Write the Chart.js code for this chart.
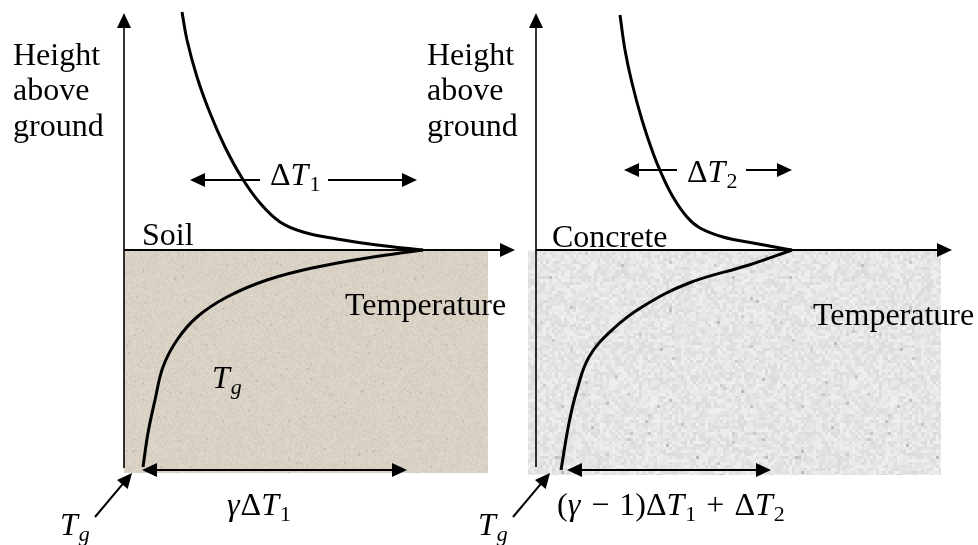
<!DOCTYPE html>
<html>
<head>
<meta charset="utf-8">
<script src="https://cdn.jsdelivr.net/npm/chart.js@4.4.1/dist/chart.umd.min.js"></script>
<style>
  html, body { margin: 0; padding: 0; background: #fff; }
  #wrap { position: relative; width: 978px; height: 545px; }
</style>
</head>
<body>
<div id="wrap"><canvas id="profileChart" width="978" height="545"></canvas></div>
<script>
// temperature (x) against height above ground (y), arbitrary units, origin at each panel's axes
const soilAirT = [5.8, 6.3, 7.3, 8.6, 10.1, 11.8, 13.6, 15.6, 17.9, 21.3, 25.3, 29.9];
const soilAirH = [23.8, 21.0, 17.3, 13.7, 10.3, 7.2, 4.7, 2.8, 1.8, 1.1, 0.5, 0];
const soilGroundT = [29.9, 24.3, 19.3, 14.3, 10.3, 7.3, 5.3, 3.9, 3.1, 2.4, 1.9];
const soilGroundH = [0, -0.8, -1.7, -3.0, -4.7, -6.7, -9.0, -11.7, -15.0, -18.3, -21.7];

const concAirT = [8.4, 8.9, 9.6, 10.6, 11.7, 12.6, 13.7, 15.1, 16.4, 18.7, 21.7, 25.6];
const concAirH = [23.5, 20.0, 16.7, 13.0, 9.7, 7.5, 5.3, 3.3, 2.2, 1.3, 0.7, 0];
const concGroundT = [25.6, 21.3, 15.3, 10.6, 7.6, 5.3, 4.1, 3.3, 2.5];
const concGroundH = [0, -1.5, -3.3, -5.7, -8.0, -10.7, -14.0, -17.3, -22.0];

// ground blocks [tStart, tEnd, depth]
const soilBlock = [0, 36.4, -22.3];
const concBlock = [-0.8, 40.5, -22.5];

const pts = (xs, ys) => xs.map((x, i) => ({ x: x, y: ys[i] }));

function makeTexture(r, g, b, spread, grain, seed) {
  const size = 240;
  const c = document.createElement("canvas");
  c.width = size;
  c.height = size;
  const cx = c.getContext("2d");
  const img = cx.createImageData(size, size);
  for (let j = 0; j < size; j++) {
    for (let i = 0; i < size; i++) {
      let h = Math.imul(Math.floor(i / grain) + seed, 374761393) + Math.imul(Math.floor(j / grain) - seed, 668265263);
      h = Math.imul(h ^ (h >>> 13), 1274126177);
      h = (h ^ (h >>> 16)) >>> 0;
      let n = ((h % 1000) / 1000 - 0.5) * spread;
      if (h % 97 === 0) n -= spread * 1.5;
      const k = (j * size + i) * 4;
      img.data[k] = r + n;
      img.data[k + 1] = g + n;
      img.data[k + 2] = b + n;
      img.data[k + 3] = 255;
    }
  }
  cx.putImageData(img, 0, 0);
  return cx.createPattern(c, "repeat");
}

const soilFill = makeTexture(217, 209, 195, 10, 2, 3);
const concFill = makeTexture(229, 229, 229, 22, 3, 11);

// annotations, in each panel's data units
const arrows = [
  // [axis, x1, y1, x2, y2, headStart, headEnd, width]
  ["xL", 0, -21.8, 0, 23.7, false, true, 1.6],
  ["xL", 0, 0, 39.1, 0, false, true, 2],
  ["xL", 13.6, 7.0, 6.6, 7.0, false, true, 2],
  ["xL", 20.4, 7.0, 29.3, 7.0, false, true, 2],
  ["xL", 1.8, -22.0, 28.3, -22.0, true, true, 2],
  ["xL", -2.9, -26.7, 0.8, -22.3, false, true, 2],
  ["xR", 0, -21.7, 0, 23.7, false, true, 1.6],
  ["xR", 0, 0, 41.6, 0, false, true, 2],
  ["xR", 14.1, 8.0, 8.8, 8.0, false, true, 2],
  ["xR", 21.0, 8.0, 25.6, 8.0, false, true, 2],
  ["xR", 3.1, -22.0, 23.5, -22.0, true, true, 2],
  ["xR", -2.3, -26.7, 1.4, -22.3, false, true, 2],
];

// parts: n = plain, m = upright math, i = italic math, op = binary operator, s = subscript, si = italic subscript
const labels = [
  ["xL", -11.1, 18.5, [["Height", "n"]]],
  ["xL", -11.1, 15.0, [["above", "n"]]],
  ["xL", -11.1, 11.4, [["ground", "n"]]],
  ["xL", 1.8, 0.5, [["Soil", "n"]]],
  ["xL", 22.1, -6.5, [["Temperature", "n"]]],
  ["xL", 14.6, 6.5, [["Δ", "m"], ["T", "i"], ["1", "s"]]],
  ["xL", 8.8, -13.8, [["T", "i"], ["g", "si"]]],
  ["xL", 10.3, -26.5, [["γ", "i"], ["Δ", "m"], ["T", "i"], ["1", "s"]]],
  ["xL", -6.4, -28.5, [["T", "i"], ["g", "si"]]],
  ["xR", -10.9, 18.5, [["Height", "n"]]],
  ["xR", -10.9, 15.0, [["above", "n"]]],
  ["xR", -10.9, 11.4, [["ground", "n"]]],
  ["xR", 1.6, 0.3, [["Concrete", "n"]]],
  ["xR", 27.7, -7.5, [["Temperature", "n"]]],
  ["xR", 15.1, 6.8, [["Δ", "m"], ["T", "i"], ["2", "s"]]],
  ["xR", 2.1, -26.5, [["(", "m"], ["γ", "i"], ["−", "op"], ["1)Δ", "m"], ["T", "i"], ["1", "s"], ["+", "op"], ["Δ", "m"], ["T", "i"], ["2", "s"]]],
  ["xR", -5.8, -28.5, [["T", "i"], ["g", "si"]]],
];

const FONT = '"Liberation Serif", "Times New Roman", serif';
const partFont = {
  n: "32px " + FONT,
  m: "32px " + FONT,
  op: "32px " + FONT,
  i: "italic 32px " + FONT,
  s: "22px " + FONT,
  si: "italic 22px " + FONT,
};

function drawHead(ctx, x, y, ang, len, half) {
  ctx.beginPath();
  ctx.moveTo(x, y);
  ctx.lineTo(x - len * Math.cos(ang) + half * Math.sin(ang), y - len * Math.sin(ang) - half * Math.cos(ang));
  ctx.lineTo(x - len * Math.cos(ang) - half * Math.sin(ang), y - len * Math.sin(ang) + half * Math.cos(ang));
  ctx.closePath();
  ctx.fill();
}

const annotate = {
  id: "annotate",
  afterDatasetsDraw(chart) {
    const ctx = chart.ctx;
    const ys = chart.scales.y;
    ctx.save();
    ctx.strokeStyle = "#000";
    ctx.fillStyle = "#000";
    arrows.forEach(([ax, x1, y1, x2, y2, hs, he, w]) => {
      const xs = chart.scales[ax];
      const px1 = xs.getPixelForValue(x1), py1 = ys.getPixelForValue(y1);
      const px2 = xs.getPixelForValue(x2), py2 = ys.getPixelForValue(y2);
      const ang = Math.atan2(py2 - py1, px2 - px1);
      const len = 15;
      ctx.lineWidth = w;
      ctx.beginPath();
      ctx.moveTo(px1 + (hs ? len * 0.8 * Math.cos(ang) : 0), py1 + (hs ? len * 0.8 * Math.sin(ang) : 0));
      ctx.lineTo(px2 - (he ? len * 0.8 * Math.cos(ang) : 0), py2 - (he ? len * 0.8 * Math.sin(ang) : 0));
      ctx.stroke();
      if (he) drawHead(ctx, px2, py2, ang, len, 7);
      if (hs) drawHead(ctx, px1, py1, ang + Math.PI, len, 7);
    });
    ctx.textBaseline = "alphabetic";
    ctx.textAlign = "left";
    labels.forEach(([ax, x, y, parts]) => {
      let px = chart.scales[ax].getPixelForValue(x);
      const py = ys.getPixelForValue(y);
      parts.forEach(([t, k]) => {
        ctx.font = partFont[k];
        const sub = k === "s" || k === "si";
        const pad = k === "op" ? 10 : 0;
        ctx.fillText(t, px + pad, py + (sub ? 6 : 0));
        px += ctx.measureText(t).width + pad * 2 + (k === "i" ? 1 : 0);
      });
    });
    ctx.restore();
  },
};

const curve = (data, axis) => ({
  data: data,
  xAxisID: axis,
  borderColor: "#000",
  borderWidth: 3,
  pointRadius: 0,
  tension: 0.4,
  fill: false,
  order: 1,
});

const block = (b, axis, pattern) => ({
  data: [{ x: b[0], y: b[2] }, { x: b[1], y: b[2] }],
  xAxisID: axis,
  borderWidth: 0,
  pointRadius: 0,
  backgroundColor: pattern,
  fill: "origin",
  order: 5,
});

new Chart(document.getElementById("profileChart").getContext("2d"), {
  type: "line",
  data: {
    datasets: [
      block(soilBlock, "xL", soilFill),
      block(concBlock, "xR", concFill),
      curve(pts(soilAirT, soilAirH), "xL"),
      curve(pts(soilGroundT, soilGroundH), "xL"),
      curve(pts(concAirT, concAirH), "xR"),
      curve(pts(concGroundT, concGroundH), "xR"),
    ],
  },
  options: {
    responsive: false,
    animation: false,
    layout: { padding: 0 },
    plugins: { legend: { display: false }, tooltip: { enabled: false } },
    scales: {
      xL: { type: "linear", display: false, min: -12.4, max: 85.4 },
      xR: { type: "linear", display: false, min: -53.6, max: 44.2 },
      y: { type: "linear", display: false, min: -29.5, max: 25.0 },
    },
  },
  plugins: [annotate],
});
</script>
</body>
</html>
